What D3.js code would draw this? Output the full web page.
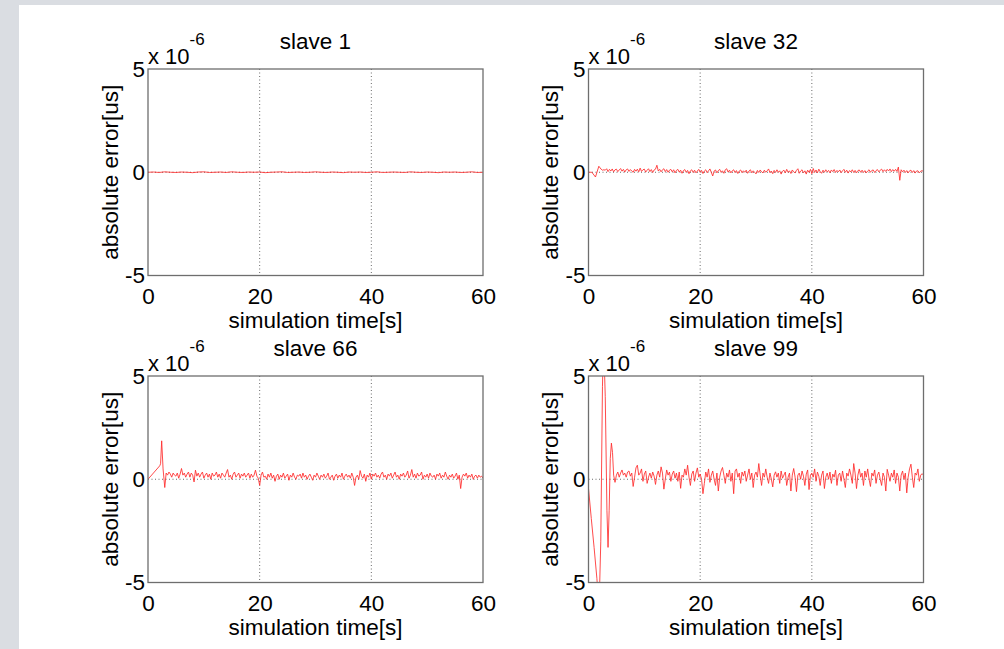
<!DOCTYPE html>
<html>
<head>
<meta charset="utf-8">
<script src="https://cdn.jsdelivr.net/npm/d3@7"></script>
<style>
  body { margin: 0; background: #dadde2; }
  svg { display: block; }
  text { font-family: "Liberation Sans", Arial, Helvetica, sans-serif; fill: #000; }
</style>
</head>
<body>
<svg id="chart" width="1004" height="649"></svg>
<script>
// axis settings (values in units of 1e-6)
var xTicks = [0, 20, 40, 60];
var yTicks = [-5, 0, 5];
var titles = ["slave 1", "slave 32", "slave 66", "slave 99"];
var xLabel = "simulation time[s]";
var yLabel = "absolute error[us]";

// slave 1: almost flat, one sample per second from t=0
var s1Start = 0, s1Step = 1;
var s1Values = [0, 0.01, -0.01, 0.02, 0, -0.01, 0.01, 0, -0.02, 0.01,
  0.02, -0.01, 0, 0.01, -0.01, 0.02, 0, -0.01, 0.01, 0,
  0.01, -0.02, 0, 0.01, 0.02, -0.01, 0, 0.01, -0.01, 0,
  0.02, 0, -0.01, 0.01, 0, -0.02, 0.01, 0, 0.01, -0.01,
  0, 0.02, -0.01, 0, 0.01, 0, -0.01, 0.02, 0, -0.01,
  0.01, 0, -0.02, 0.01, 0, 0.01, -0.01, 0, 0.02, -0.01, 0];

// slave 32: start-up transient, then samples every 0.25 s from t=3
var s32HeadT = [0, 0.6, 1.25, 1.85, 2.25, 2.5, 2.75];
var s32HeadV = [0, 0.0, -0.23, 0.29, 0.15, 0.1, 0.12];
var s32Start = 3, s32Step = 0.25;
var s32Values = [
  0.1, 0.17, 0.03, 0.14, 0.06, 0.16, 0.02, 0.12, 0.15, 0.03, 0.11, 0.18,
  0.05, 0.14, 0.01, 0.12, 0.16, 0.04, 0.13, 0.06, 0.0, 0.14, 0.05, 0.15,
  0.02, 0.2, 0.04, 0.12, 0.15, 0.01, 0.1, 0.17, 0.03, 0.13, -0.01, 0.11,
  0.15, 0.34, 0.06, 0.14, 0.02, 0.12, 0.17, 0.03, 0.13, 0.0, 0.1, 0.14,
  0.02, 0.12, -0.03, 0.09, 0.14, 0.01, 0.1, -0.05, 0.08, 0.13, 0.0, 0.09,
  -0.07, 0.07, 0.12, -0.01, 0.1, -0.03, 0.06, 0.14, 0.0, 0.09, -0.06, 0.06,
  0.12, -0.02, 0.07, 0.16, -0.01, -0.18, 0.06, 0.11, -0.03, 0.08, 0.14, 0.0,
  0.07, -0.05, 0.12, 0.17, 0.01, 0.1, -0.03, 0.07, 0.12, -0.01, 0.08, -0.06,
  0.06, 0.11, -0.02, 0.07, 0.0, 0.1, -0.05, 0.06, 0.12, -0.03, 0.07, 0.0,
  -0.08, 0.09, -0.01, 0.11, 0.02, -0.03, 0.1, 0.0, 0.07, 0.16, -0.02, 0.06,
  -0.07, 0.09, -0.01, 0.12, 0.0, 0.07, -0.09, 0.05, 0.1, -0.03, 0.14, 0.0,
  0.07, -0.06, 0.11, 0.02, -0.03, 0.09, 0.17, -0.05, 0.06, 0.12, -0.03, 0.07,
  -0.09, 0.1, 0.0, 0.14, -0.07, 0.18, -0.01, 0.11, -0.03, 0.15, 0.03, -0.05,
  0.1, 0.0, 0.12, 0.02, 0.09, -0.03, 0.11, 0.03, 0.13, -0.01, 0.09, 0.02,
  0.11, -0.02, 0.07, 0.14, 0.0, 0.1, -0.04, 0.08, 0.02, 0.12, -0.01, 0.09,
  -0.03, 0.08, 0.11, 0.0, 0.1, -0.01, 0.08, -0.03, 0.06, 0.12, 0.0, 0.09,
  0.11, -0.01, 0.08, 0.13, 0.02, 0.1, 0.15, 0.03, 0.12, 0.04, 0.14, 0.06,
  0.16, 0.03, 0.13, 0.05, 0.14, 0.04, 0.25, -0.39, 0.12, 0.02, 0.1, -0.01,
  0.08, -0.03, 0.07, 0.1, -0.01, 0.08, -0.04, 0.06, 0.07, -0.03, 0.05, 0.08,
  0.02];

// slave 66: ramp and spike, then samples every 0.25 s from t=4
var s66HeadT = [0, 2.1, 2.25, 2.45, 2.7, 3.0, 3.25, 3.5, 3.75];
var s66HeadV = [0, 0.65, 0.75, 1.86, 0.5, -0.4, 0.3, 0.2, 0.35];
var s66Start = 4, s66Step = 0.25;
var s66Values = [
  0.25, 0.1, 0.3, 0.2, 0.15, 0.3, 0.05, 0.25, 0.52, 0.2, 0.3, 0.1,
  0.25, 0.35, 0.1, 0.3, 0.2, -0.13, 0.44, 0.15, 0.3, 0.1, 0.25, 0.35,
  0.05, 0.2, 0.3, 0.1, 0.25, 0.0, 0.3, 0.15, 0.2, 0.35, 0.1, 0.25,
  0.05, 0.3, 0.2, 0.1, 0.3, 0.47, 0.1, 0.2, 0.0, 0.25, 0.35, 0.1,
  0.2, 0.3, 0.05, 0.25, 0.15, 0.3, 0.1, 0.2, 0.3, 0.05, 0.25, 0.1,
  0.2, 0.44, 0.15, 0.05, -0.3, 0.2, 0.35, 0.1, 0.15, 0.0, 0.25, 0.1,
  0.3, 0.05, 0.2, -0.1, 0.15, 0.25, 0.0, 0.2, 0.1, 0.3, 0.05, 0.15,
  0.25, -0.05, 0.2, 0.1, 0.3, 0.1, 0.0, 0.2, 0.15, 0.25, 0.05, 0.3,
  0.1, 0.2, 0.0, 0.15, 0.25, 0.1, -0.05, 0.2, 0.1, 0.3, 0.15, 0.0,
  0.2, 0.1, 0.25, 0.05, 0.15, 0.3, 0.0, 0.1, 0.2, -0.05, 0.15, 0.25,
  0.05, 0.2, 0.1, 0.3, 0.0, 0.15, 0.25, 0.1, 0.2, 0.05, 0.3, 0.1,
  -0.3, 0.1, 0.2, 0.0, 0.42, 0.15, 0.05, 0.25, -0.1, 0.2, 0.1, 0.3,
  0.0, 0.25, 0.15, 0.3, 0.1, 0.2, 0.05, 0.25, 0.35, 0.1, 0.2, 0.0,
  0.25, 0.15, 0.3, 0.05, 0.2, 0.35, 0.1, 0.2, 0.0, 0.25, 0.15, 0.3,
  0.1, 0.2, 0.4, 0.05, 0.2, 0.47, 0.1, 0.25, 0.05, 0.3, 0.15, 0.2,
  0.35, 0.0, 0.2, 0.1, 0.25, 0.05, 0.3, 0.15, 0.1, 0.2, 0.0, 0.25,
  0.15, 0.3, 0.05, 0.2, 0.1, 0.35, 0.15, 0.0, 0.2, 0.1, 0.25, 0.05,
  0.15, 0.3, 0.0, 0.2, -0.45, 0.1, 0.25, 0.15, 0.3, 0.05, 0.2, 0.1,
  0.25, 0.0, 0.15, 0.2, 0.05, 0.2, 0.1, 0.15, 0.05];

// slave 99: large start-up oscillation, then samples every 0.25 s from t=5
var s99HeadT = [0, 0.5, 1.0, 1.5, 1.9, 2.2, 2.5, 2.7, 3.0, 3.3, 3.5, 3.7, 3.9, 4.1, 4.3, 4.5, 4.75];
var s99HeadV = [-0.45, -1.9, -3.3, -4.8, -6.2, -3.0, 4.5, 6.8, 4.0, -1.5, -3.3, -1.5, 1.0, 1.75, 1.3, 0.2, -0.15];
var s99Start = 5, s99Step = 0.25;
var s99Values = [
  0.2, 0.35, 0.1, 0.3, 0.45, 0.2, 0.3, 0.1, 0.35, 0.4, 0.15, 0.3,
  -0.35, 0.1, 0.55, 0.68, 0.2, 0.3, 0.5, -0.1, 0.25, 0.4, -0.2, 0.1,
  0.3, 0.05, 0.35, 0.15, -0.25, 0.2, 0.4, 0.1, 0.6, 0.3, -0.48, 0.0,
  0.45, 0.2, 0.35, -0.1, 0.25, 0.4, 0.05, 0.3, -0.1, 0.35, -0.44, 0.2,
  0.1, 0.5, 0.2, 0.68, 0.1, -0.3, 0.25, 0.4, -0.1, 0.3, 0.55, 0.1,
  0.25, 0.0, -0.7, -0.2, 0.35, 0.1, 0.5, -0.15, 0.2, 0.4, 0.0, -0.3,
  0.3, -0.57, 0.1, 0.4, 0.57, 0.2, -0.2, 0.3, 0.1, 0.45, -0.1, 0.3,
  -0.7, 0.4, 0.5, 0.1, 0.3, -0.2, 0.35, 0.15, 0.4, -0.1, 0.2, 0.5,
  0.0, 0.3, -0.4, 0.2, 0.35, 0.1, 0.76, 0.2, -0.3, 0.3, 0.1, 0.5,
  0.1, -0.2, 0.3, 0.0, -0.37, 0.2, 0.36, 0.1, 0.3, -0.2, 0.4, 0.05,
  0.2, 0.35, -0.3, 0.1, 0.3, -0.57, 0.2, 0.52, 0.1, -0.6, 0.2, 0.3,
  0.0, 0.4, 0.15, -0.3, 0.25, 0.45, -0.5, 0.2, 0.3, 0.1, 0.5, -0.1,
  0.35, 0.15, -0.3, 0.2, 0.4, -0.45, 0.1, 0.3, 0.0, 0.35, -0.2, 0.25,
  0.1, 0.44, -0.3, 0.2, 0.3, -0.1, 0.4, 0.0, -0.4, 0.3, 0.15, 0.5,
  0.2, -0.2, 0.76, 0.3, -0.45, 0.2, 0.5, 0.1, 0.3, -0.3, 0.4, 0.1,
  0.5, 0.0, -0.35, 0.3, 0.15, 0.45, -0.2, 0.2, 0.35, 0.0, -0.3, 0.3,
  0.1, -0.57, 0.48, 0.2, -0.1, 0.3, 0.1, 0.45, -0.2, 0.3, 0.1, -0.57,
  0.2, 0.4, 0.0, 0.3, -0.66, 0.1, 0.5, 0.73, 0.1, -0.4, 0.3, 0.2,
  0.5, -0.1, 0.2, 0.27, 0.2];

function toPoints(headT, headV, start, step, values) {
    var pts = headT.map((t, i) => [t, headV[i]]);
    values.forEach((v, i) => pts.push([start + i * step, v]));
    return pts;
}

var series = [
    toPoints([], [], s1Start, s1Step, s1Values),
    toPoints(s32HeadT, s32HeadV, s32Start, s32Step, s32Values),
    toPoints(s66HeadT, s66HeadV, s66Start, s66Step, s66Values),
    toPoints(s99HeadT, s99HeadV, s99Start, s99Step, s99Values)
];

var svg = d3.select("#chart");
var plotW = 335, plotH = 206.5;
var lefts = [148, 588.5];
var tops = [69, 376];
var fontSize = 22.5;

// white figure area over the grey window
svg.append("rect").attr("width", 1004).attr("height", 649).attr("fill", "#dadde2");
svg.append("rect").attr("x", 19).attr("y", 5).attr("width", 985).attr("height", 644).attr("fill", "#fff");

function drawPanel(i) {
    var left = lefts[i % 2];
    var top = tops[Math.floor(i / 2)];
    var g = svg.append("g").attr("transform", `translate(${left},${top})`);

    var x = d3.scaleLinear().domain([0, 60]).range([0, plotW]);
    var y = d3.scaleLinear().domain([-5, 5]).range([plotH, 0]);

    // dotted grid
    g.selectAll(".vgrid")
        .data(xTicks.slice(1, -1))
        .enter()
        .append("line")
        .attr("x1", (d) => x(d)).attr("x2", (d) => x(d))
        .attr("y1", 0).attr("y2", plotH)
        .attr("stroke", "#444").attr("stroke-width", 0.8)
        .attr("stroke-dasharray", "1,2.5");
    g.selectAll(".hgrid")
        .data(yTicks.slice(1, -1))
        .enter()
        .append("line")
        .attr("x1", 0).attr("x2", plotW)
        .attr("y1", (d) => y(d)).attr("y2", (d) => y(d))
        .attr("stroke", "#444").attr("stroke-width", 0.8)
        .attr("stroke-dasharray", "1,2.5");

    // data line, clipped to the axes box
    var clipId = "clip" + i;
    g.append("clipPath").attr("id", clipId)
        .append("rect").attr("width", plotW).attr("height", plotH);

    var line = d3.line()
        .x((d) => x(d[0]))
        .y((d) => y(d[1]));

    g.append("path")
        .datum(series[i])
        .attr("clip-path", `url(#${clipId})`)
        .attr("d", line)
        .attr("fill", "none")
        .attr("stroke", "#ff2a2a")
        .attr("stroke-width", 0.85)
        .attr("stroke-linejoin", "round");

    // box
    g.append("rect")
        .attr("width", plotW).attr("height", plotH)
        .attr("fill", "none")
        .attr("stroke", "#6e6e6e").attr("stroke-width", 1.3);

    // tick labels (plain hyphen for negatives, as in the original)
    var xAxis = g.append("g")
        .attr("transform", `translate(0,${plotH})`)
        .call(d3.axisBottom(x).tickValues(xTicks).tickSize(0).tickPadding(13)
            .tickFormat((d) => String(d)));
    xAxis.select(".domain").remove();
    xAxis.selectAll("text").style("font-size", fontSize + "px")
        .style("font-family", "'Liberation Sans', Arial, sans-serif").attr("fill", "#000");

    var yAxis = g.append("g")
        .call(d3.axisLeft(y).tickValues(yTicks).tickSize(0).tickPadding(3)
            .tickFormat((d) => String(d)));
    yAxis.select(".domain").remove();
    yAxis.selectAll("text").style("font-size", fontSize + "px")
        .style("font-family", "'Liberation Sans', Arial, sans-serif").attr("fill", "#000");

    // exponent label
    var expo = g.append("text")
        .attr("x", 0).attr("y", -5)
        .style("font-size", "22px");
    expo.append("tspan").text("x 10");
    expo.append("tspan").attr("dy", -19).style("font-size", "17px").text("-6");

    // title and axis labels
    g.append("text")
        .attr("x", plotW / 2).attr("y", -20)
        .attr("text-anchor", "middle")
        .style("font-size", fontSize + "px")
        .text(titles[i]);

    g.append("text")
        .attr("x", plotW / 2).attr("y", plotH + 52)
        .attr("text-anchor", "middle")
        .style("font-size", fontSize + "px")
        .text(xLabel);

    g.append("text")
        .attr("transform", `translate(-30.5,${plotH / 2}) rotate(-90)`)
        .attr("text-anchor", "middle")
        .style("font-size", fontSize + "px")
        .text(yLabel);
}

for (var i = 0; i < 4; i++) {
    drawPanel(i);
}
</script>
</body>
</html>
